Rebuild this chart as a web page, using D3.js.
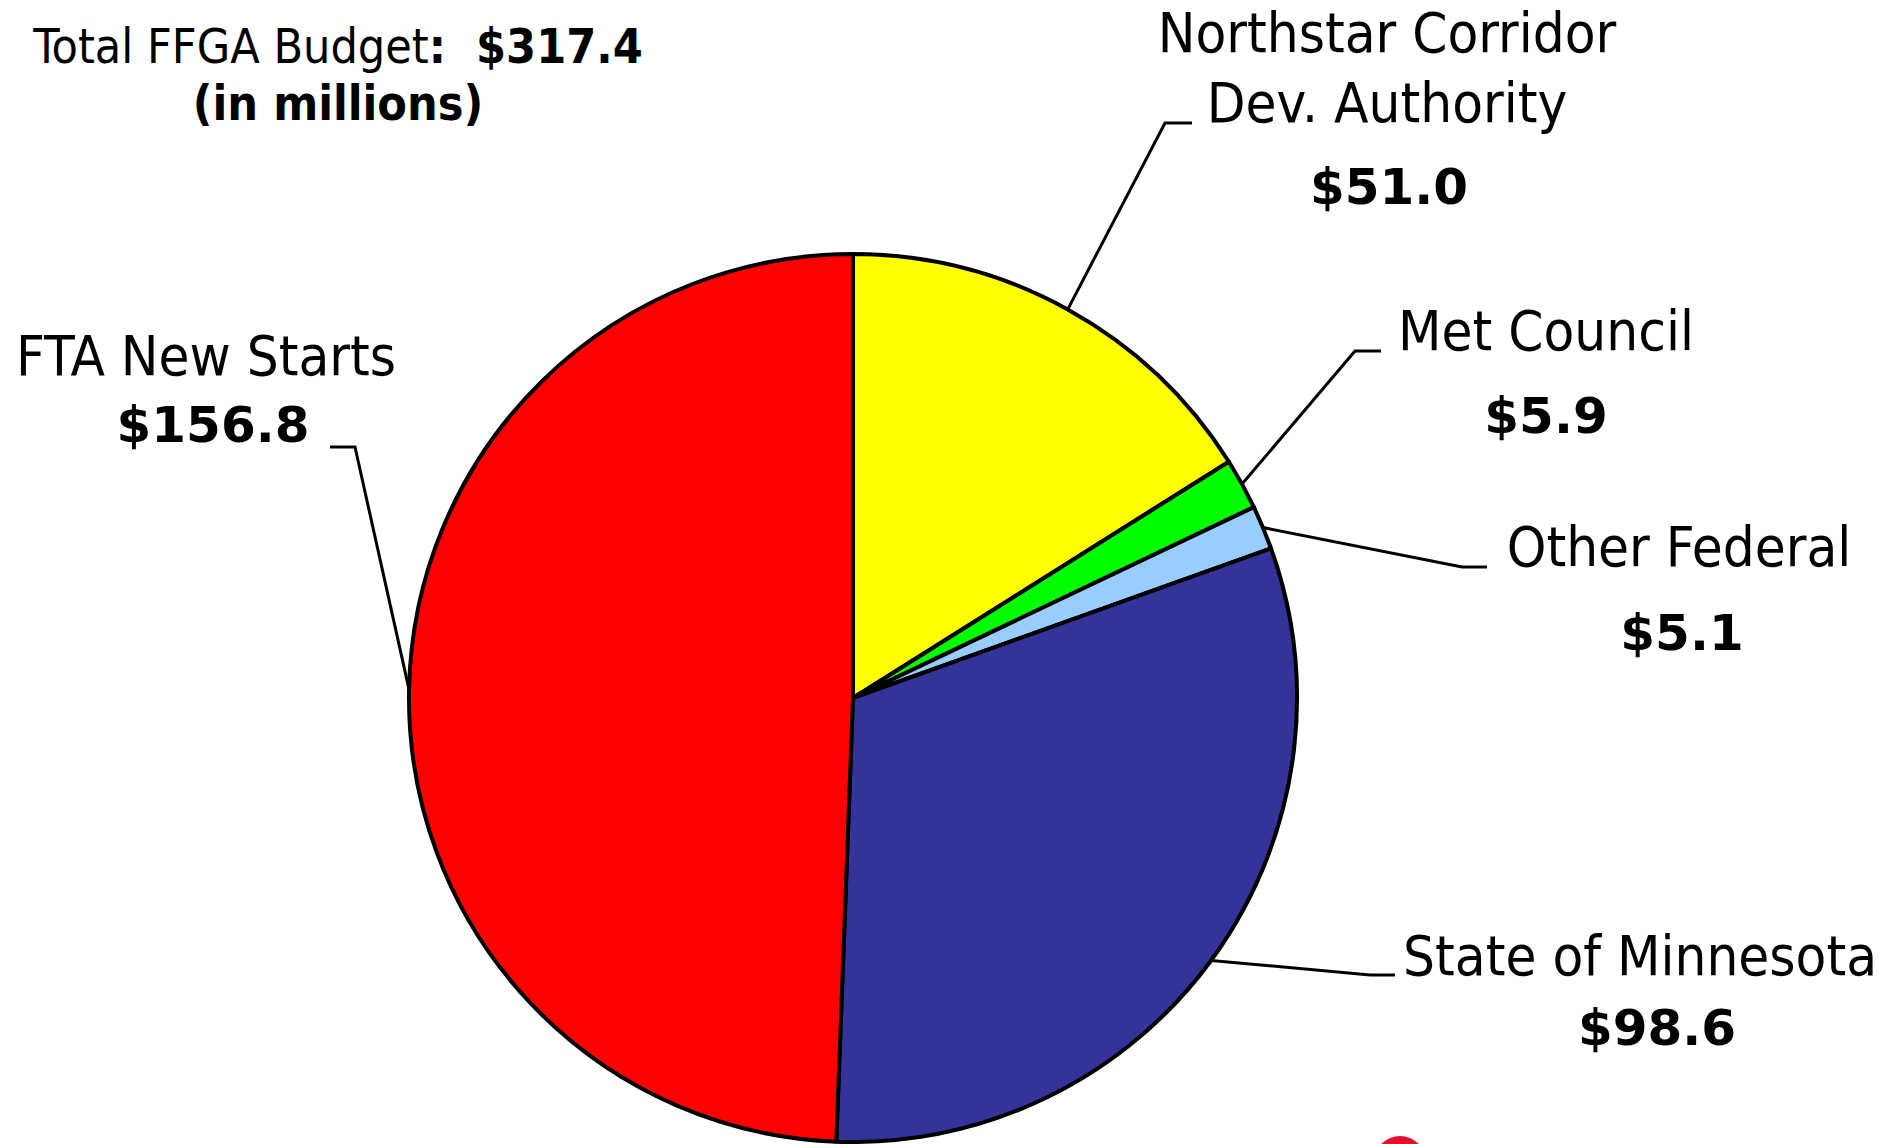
<!DOCTYPE html>
<html>
<head>
<meta charset="utf-8">
<script src="https://cdn.jsdelivr.net/npm/d3@7"></script>
<style>
    html, body { margin: 0; padding: 0; background: #fff; overflow: hidden; }
    svg text { font-family: "DejaVu Sans Condensed", "DejaVu Sans", sans-serif; font-stretch: condensed; fill: #000; }
    svg text.value { font-family: "DejaVu Sans", sans-serif; font-stretch: normal; font-weight: bold; }
</style>
</head>
<body>
<svg id="chart"></svg>
<script>
// Funding sources, clockwise from 12 o'clock
var categories = ["Northstar Corridor Dev. Authority", "Met Council", "Other Federal", "State of Minnesota", "FTA New Starts"];
var labelLines = [["Northstar Corridor", "Dev. Authority"], ["Met Council"], ["Other Federal"], ["State of Minnesota"], ["FTA New Starts"]];
var values = [51.0, 5.9, 5.1, 98.6, 156.8];
var colors = ["#ffff00", "#00ff00", "#99ccff", "#333399", "#ff0000"];

var W = 1879, H = 1144;
var cx = 853, cy = 698, r = 444;
var fmt = d3.format("$.1f");

var svg = d3.select("#chart").attr("width", W).attr("height", H);

// Title
var title = svg.append("g").attr("transform", "translate(338,0)");
var t1 = title.append("text").attr("y", 63).style("text-anchor", "middle").style("font-size", "48px");
t1.append("tspan").text("Total FFGA Budget");
t1.append("tspan").style("font-weight", "bold").text(":\u00a0 " + fmt(d3.sum(values)));
title.append("text").attr("y", 120).style("text-anchor", "middle")
    .style("font-size", "48px").style("font-weight", "bold").text("(in millions)");

// Pie
var pie = d3.pie().sort(null).value(function (d) { return d; });
var arc = d3.arc().innerRadius(0).outerRadius(r);
var arcs = pie(values);

var g = svg.append("g").attr("transform", "translate(" + cx + "," + cy + ")");
g.selectAll("path.slice")
    .data(arcs)
    .enter().append("path")
    .attr("class", "slice")
    .attr("d", arc)
    .style("fill", function (d, i) { return colors[i]; })
    .style("stroke", "#000")
    .style("stroke-width", 4)
    .style("stroke-linejoin", "round");

// Label layout: text x + anchor, line baselines, value x/baseline, leader elbow and end
var layout = [
    { x: 1387, anchor: "middle", lines: [52, 122], vx: 1389, val: 204, elbow: [1165, 123], end: [1192, 123] },
    { x: 1546, anchor: "middle", lines: [350], vx: 1546, val: 433, elbow: [1355, 351], end: [1381, 351] },
    { x: 1679, anchor: "middle", lines: [566], vx: 1682, val: 650, elbow: [1462, 567], end: [1487, 567] },
    { x: 1877, anchor: "end", lines: [975], vx: 1657, val: 1045, elbow: [1370, 975], end: [1395, 975] },
    { x: 206, anchor: "middle", lines: [375], vx: 213, val: 442, elbow: [355, 447], end: [330, 447] }
];

arcs.forEach(function (d, i) {
    var L = layout[i];
    var mid = (d.startAngle + d.endAngle) / 2;
    var p0 = [cx + r * Math.sin(mid), cy - r * Math.cos(mid)];

    svg.append("path")
        .attr("d", d3.line()([p0, L.elbow, L.end]))
        .style("fill", "none")
        .style("stroke", "#000")
        .style("stroke-width", 3);

    labelLines[i].forEach(function (s, k) {
        svg.append("text")
            .attr("x", L.x).attr("y", L.lines[k])
            .style("text-anchor", L.anchor)
            .style("font-size", "56px")
            .text(s);
    });
    svg.append("text")
        .attr("class", "value")
        .attr("x", L.vx).attr("y", L.val)
        .style("text-anchor", "middle")
        .style("font-size", "50px")
        .text(fmt(values[i]));
});

// partial logo at the bottom edge
svg.append("circle").attr("cx", 1400).attr("cy", 1162).attr("r", 26).style("fill", "#e8102e");
</script>
</body>
</html>
